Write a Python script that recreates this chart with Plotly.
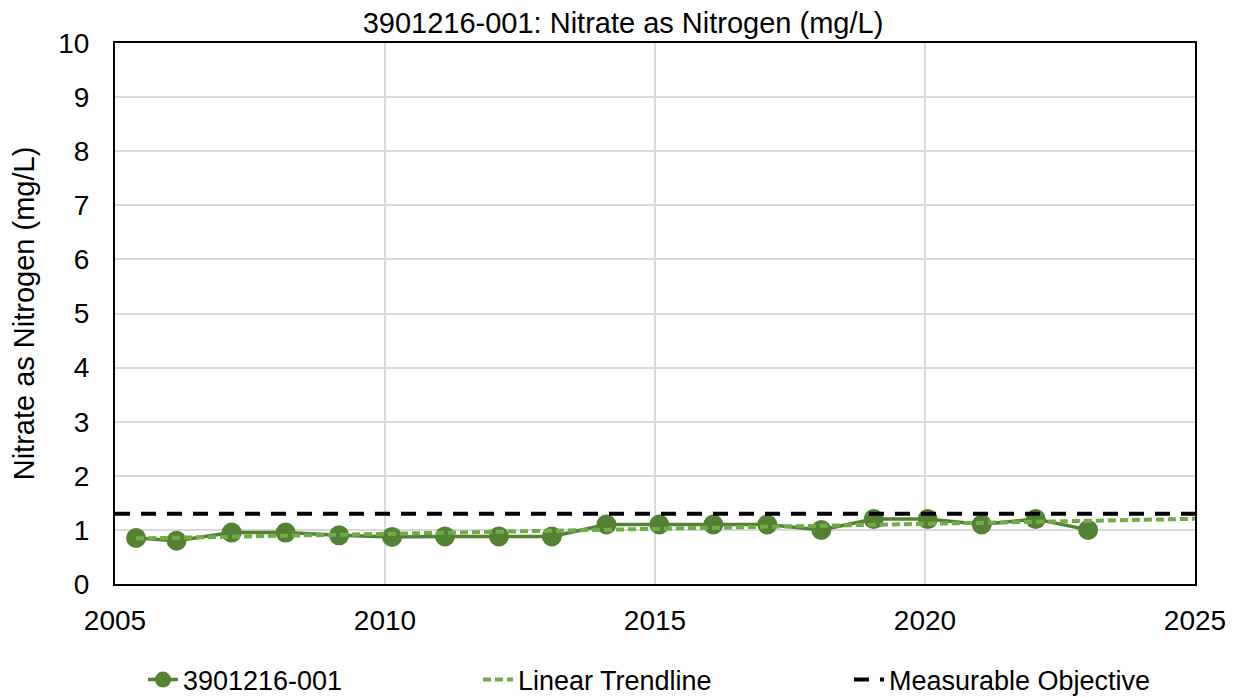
import numpy as np
import plotly.graph_objects as go

# Data (decimal year, mg/L)
years = [2005.39, 2006.14, 2007.16, 2008.16, 2009.15, 2010.13, 2011.11, 2012.11, 2013.09,
         2014.10, 2015.08, 2016.08, 2017.08, 2018.08, 2019.05, 2020.05, 2021.05, 2022.05, 2023.02]
nitrate = [0.85, 0.80, 0.95, 0.95, 0.90, 0.87, 0.88, 0.88, 0.88,
           1.10, 1.10, 1.10, 1.10, 1.00, 1.20, 1.20, 1.10, 1.20, 1.00]
objective_value = 1.3
x_ticks = [2005, 2010, 2015, 2020, 2025]
y_ticks = list(range(0, 11))
series_name = "3901216-001"

# Linear trendline fitted to the data, extended to the axis end
slope, intercept = np.polyfit(years, nitrate, 1)
trend_x = [years[0], 2025]
trend_y = [slope * v + intercept for v in trend_x]

fig = go.Figure()
fig.add_trace(go.Scatter(
    x=years, y=nitrate, mode="lines+markers", name=series_name,
    line=dict(color="#548235", width=3.5),
    marker=dict(color="#548235", size=20), legend="legend"))
fig.add_trace(go.Scatter(
    x=trend_x, y=trend_y, mode="lines", name="Linear Trendline",
    line=dict(color="#70AD47", width=4, dash="8px,4px"), legend="legend2"))
fig.add_trace(go.Scatter(
    x=[2005, 2025], y=[objective_value, objective_value], mode="lines",
    name="Measurable Objective",
    line=dict(color="#000000", width=4, dash="15px,11px"), legend="legend3"))

FAM = "Liberation Sans, Arial, sans-serif"
W, H = 1230, 712
ML, MR, MT, MB = 104, 43, 35, 136
plot_h = H - MT - MB

legend_common = dict(orientation="h", yanchor="middle", y=-96 / plot_h, xanchor="left",
                     font=dict(family=FAM, size=27, color="#000000"),
                     bgcolor="rgba(0,0,0,0)")

fig.update_layout(
    width=W, height=H,
    margin=dict(l=ML, r=MR, t=MT, b=MB),
    paper_bgcolor="white", plot_bgcolor="white",
    font=dict(family=FAM, size=28, color="#000000"),
    title=dict(text="3901216-001: Nitrate as Nitrogen (mg/L)", x=0.5, xanchor="center",
               y=1 - 15 / H, yanchor="middle", font=dict(size=29)),
    showlegend=True,
    legend=dict(x=0.0259, **legend_common),
    legend2=dict(x=0.3361, **legend_common),
    legend3=dict(x=0.6796, **legend_common),
    xaxis=dict(range=[2005, 2025], tickvals=x_ticks, showgrid=True, gridcolor="#d9d9d9",
               gridwidth=1.5, showline=True, linecolor="black", linewidth=2, mirror=True,
               ticks="", zeroline=False, tickfont=dict(size=28), ticklabelstandoff=10),
    yaxis=dict(range=[0, 10], tickvals=y_ticks, showgrid=True, gridcolor="#d9d9d9",
               gridwidth=1.5, showline=True, linecolor="black", linewidth=2, mirror=True,
               ticks="", zeroline=False, tickfont=dict(size=28), ticklabelstandoff=18,
               title=dict(text="Nitrate as Nitrogen (mg/L)", font=dict(size=29), standoff=18)),
)

fig.write_html("out.html")
